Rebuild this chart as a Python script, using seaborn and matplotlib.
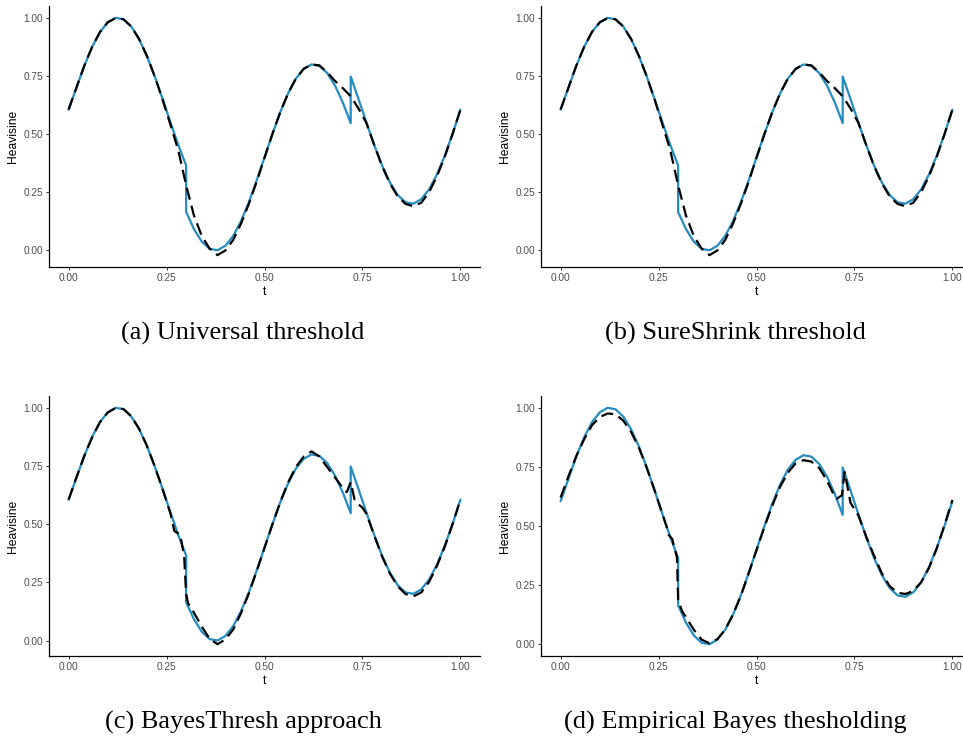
import matplotlib
matplotlib.use("Agg")
import matplotlib.pyplot as plt
import numpy as np
import pandas as pd
import seaborn as sns

# ---------------- data ----------------
t_true = [0.00, 0.02, 0.04, 0.06, 0.08, 0.10, 0.12, 0.14, 0.16, 0.18,
          0.20, 0.22, 0.24, 0.26, 0.28, 0.30, 0.30, 0.32, 0.34, 0.36,
          0.38, 0.40, 0.42, 0.44, 0.46, 0.48, 0.50, 0.52, 0.54, 0.56,
          0.58, 0.60, 0.62, 0.64, 0.66, 0.68, 0.70, 0.72, 0.72, 0.74,
          0.76, 0.78, 0.80, 0.82, 0.84, 0.86, 0.88, 0.90, 0.92, 0.94,
          0.96, 0.98, 1.00]
heavisine_true = [0.605, 0.699, 0.793, 0.874, 0.938, 0.980, 0.999, 0.993, 0.962, 0.908,
                  0.835, 0.747, 0.650, 0.550, 0.453, 0.365, 0.165, 0.092, 0.038, 0.007,
                  0.001, 0.020, 0.062, 0.126, 0.207, 0.301, 0.400, 0.499, 0.593, 0.674,
                  0.738, 0.780, 0.799, 0.793, 0.762, 0.708, 0.635, 0.547, 0.747, 0.650,
                  0.550, 0.453, 0.365, 0.292, 0.238, 0.207, 0.201, 0.220, 0.262, 0.326,
                  0.407, 0.501, 0.605]

t_universal = [0.00, 0.02, 0.04, 0.06, 0.08, 0.10, 0.12, 0.14, 0.16, 0.18,
               0.20, 0.22, 0.24, 0.26, 0.28, 0.30, 0.32, 0.34, 0.36, 0.38,
               0.40, 0.42, 0.44, 0.46, 0.48, 0.50, 0.52, 0.54, 0.56, 0.58,
               0.60, 0.62, 0.64, 0.66, 0.68, 0.70, 0.72, 0.74, 0.76, 0.78,
               0.80, 0.82, 0.84, 0.86, 0.88, 0.90, 0.92, 0.94, 0.96, 0.98, 1.00]
est_universal = [0.605, 0.699, 0.793, 0.874, 0.938, 0.980, 0.998, 0.993, 0.962, 0.908,
                 0.835, 0.747, 0.648, 0.540, 0.430, 0.280, 0.150, 0.062, 0.008, -0.020,
                 0.000, 0.045, 0.115, 0.200, 0.295, 0.398, 0.499, 0.593, 0.674, 0.738,
                 0.780, 0.799, 0.795, 0.765, 0.728, 0.697, 0.662, 0.610, 0.548, 0.453,
                 0.363, 0.288, 0.232, 0.200, 0.190, 0.205, 0.250, 0.318, 0.402, 0.500, 0.605]

t_sureshrink = [0.00, 0.02, 0.04, 0.06, 0.08, 0.10, 0.12, 0.14, 0.16, 0.18,
                0.20, 0.22, 0.24, 0.26, 0.28, 0.30, 0.32, 0.34, 0.36, 0.38,
                0.40, 0.42, 0.44, 0.46, 0.48, 0.50, 0.52, 0.54, 0.56, 0.58,
                0.60, 0.62, 0.64, 0.66, 0.68, 0.70, 0.72, 0.74, 0.76, 0.78,
                0.80, 0.82, 0.84, 0.86, 0.88, 0.90, 0.92, 0.94, 0.96, 0.98, 1.00]
est_sureshrink = [0.605, 0.699, 0.793, 0.874, 0.938, 0.980, 0.998, 0.993, 0.962, 0.908,
                  0.835, 0.747, 0.648, 0.540, 0.430, 0.280, 0.150, 0.062, 0.008, -0.020,
                  0.000, 0.045, 0.115, 0.200, 0.295, 0.398, 0.499, 0.593, 0.674, 0.738,
                  0.780, 0.799, 0.795, 0.765, 0.728, 0.697, 0.662, 0.610, 0.548, 0.453,
                  0.363, 0.288, 0.232, 0.200, 0.190, 0.205, 0.250, 0.318, 0.402, 0.500, 0.605]

t_bayesthresh = [0.00, 0.02, 0.04, 0.06, 0.08, 0.10, 0.12, 0.14, 0.16, 0.18,
                 0.20, 0.22, 0.24, 0.26, 0.27, 0.285, 0.295, 0.30, 0.305, 0.32,
                 0.34, 0.36, 0.38, 0.40, 0.42, 0.44, 0.46, 0.48, 0.50, 0.52,
                 0.54, 0.56, 0.58, 0.60, 0.62, 0.64, 0.66, 0.68, 0.70, 0.71,
                 0.72, 0.73, 0.74, 0.75, 0.76, 0.78, 0.80, 0.82, 0.84, 0.86,
                 0.88, 0.90, 0.92, 0.94, 0.96, 0.98, 1.00]
est_bayesthresh = [0.605, 0.700, 0.792, 0.872, 0.937, 0.979, 0.998, 0.994, 0.963, 0.909,
                   0.836, 0.747, 0.650, 0.545, 0.470, 0.455, 0.360, 0.200, 0.160, 0.120,
                   0.060, 0.008, -0.015, 0.005, 0.048, 0.118, 0.202, 0.298, 0.398, 0.498,
                   0.593, 0.678, 0.745, 0.790, 0.812, 0.790, 0.745, 0.700, 0.655, 0.637,
                   0.680, 0.605, 0.585, 0.570, 0.545, 0.452, 0.362, 0.288, 0.233, 0.200,
                   0.190, 0.207, 0.252, 0.320, 0.403, 0.500, 0.605]

t_ebayes = [0.00, 0.02, 0.04, 0.06, 0.08, 0.10, 0.12, 0.14, 0.16, 0.18,
            0.20, 0.22, 0.24, 0.26, 0.27, 0.276, 0.285, 0.29, 0.297, 0.30,
            0.31, 0.32, 0.34, 0.36, 0.38, 0.40, 0.42, 0.44, 0.46, 0.48,
            0.50, 0.52, 0.54, 0.56, 0.58, 0.60, 0.62, 0.64, 0.66, 0.68,
            0.70, 0.705, 0.718, 0.725, 0.74, 0.76, 0.78, 0.80, 0.82, 0.84,
            0.86, 0.88, 0.90, 0.92, 0.94, 0.96, 0.98, 1.00]
est_ebayes = [0.620, 0.710, 0.795, 0.866, 0.925, 0.960, 0.975, 0.972, 0.945, 0.897,
              0.830, 0.745, 0.650, 0.550, 0.500, 0.462, 0.445, 0.410, 0.368, 0.190,
              0.140, 0.115, 0.062, 0.020, 0.005, 0.022, 0.062, 0.126, 0.205, 0.300,
              0.398, 0.495, 0.585, 0.665, 0.725, 0.765, 0.778, 0.772, 0.745, 0.692,
              0.622, 0.615, 0.630, 0.728, 0.598, 0.545, 0.455, 0.375, 0.300, 0.246,
              0.218, 0.213, 0.226, 0.262, 0.322, 0.405, 0.505, 0.610]

captions = ["(a) Universal threshold", "(b) SureShrink threshold",
            "(c) BayesThresh approach", "(d) Empirical Bayes thesholding"]
x_ticks = [0.00, 0.25, 0.50, 0.75, 1.00]
y_ticks = [0.00, 0.25, 0.50, 0.75, 1.00]
tick_labels = ["0.00", "0.25", "0.50", "0.75", "1.00"]

estimates = [(t_universal, est_universal), (t_sureshrink, est_sureshrink),
             (t_bayesthresh, est_bayesthresh), (t_ebayes, est_ebayes)]

# ---------------- style ----------------
sns.set_theme(style="ticks")
plt.rcParams["font.family"] = ["Liberation Sans", "DejaVu Sans"]
BLUE = "#238CC0"

fig = plt.figure(figsize=(9.63, 7.38), dpi=100)
W, H = 963.0, 738.0
# axes rectangles in pixels: left, top, width, height
rects = [(49, 6, 431, 261), (541, 6, 431, 261),
         (49, 396, 431, 260), (541, 396, 431, 260)]
cap_pos = [(243, 340), (735, 340), (243, 729), (735, 729)]

true_df = pd.DataFrame({"t": t_true, "Heavisine": heavisine_true})

for i, ((tt, yy), (l, top, w, h)) in enumerate(zip(estimates, rects)):
    ax = fig.add_axes([l / W, 1 - (top + h) / H, w / W, h / H])
    est_df = pd.DataFrame({"t": tt, "Heavisine": yy})
    sns.lineplot(data=true_df, x="t", y="Heavisine", ax=ax, sort=False,
                 estimator=None, errorbar=None, color=BLUE, linewidth=1.6,
                 solid_joinstyle="round", zorder=2)
    sns.lineplot(data=est_df, x="t", y="Heavisine", ax=ax, sort=False,
                 estimator=None, errorbar=None, color="black", linewidth=1.6,
                 linestyle=(0, (5.5, 2.8)), zorder=3)
    ax.margins(x=0.05, y=0.05)
    ax.set_xticks(x_ticks)
    ax.set_xticklabels(tick_labels)
    ax.set_yticks(y_ticks)
    ax.set_yticklabels(tick_labels)
    sns.despine(ax=ax)
    for s in ("left", "bottom"):
        ax.spines[s].set_color("black")
        ax.spines[s].set_linewidth(0.9)
    ax.tick_params(axis="both", length=2.2, width=0.7, color="#333333",
                   pad=2, labelsize=7.3, labelcolor="#4D4D4D")
    ax.set_xlabel("t", fontsize=8.7, color="black", labelpad=2.5)
    ax.set_ylabel("Heavisine", fontsize=8.7, color="black", labelpad=3)
    ax.grid(False)
    cx, cy = cap_pos[i]
    fig.text(cx / W, 1 - cy / H, captions[i], ha="center", va="baseline",
             fontsize=19, color="black",
             family=["Liberation Serif", "DejaVu Serif"])

fig.savefig("out.png", dpi=100, facecolor="white")
